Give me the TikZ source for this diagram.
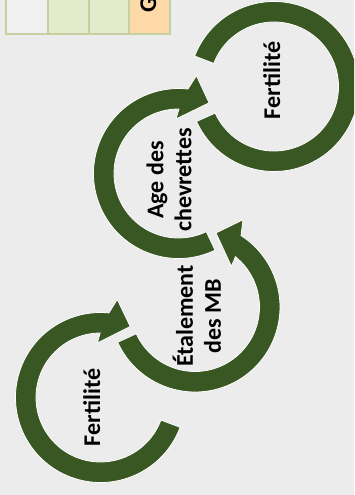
\documentclass[tikz,border=0pt]{standalone}
\usepackage{fontspec}
\setmainfont{Carlito}
\usetikzlibrary{calc}
\definecolor{bgc}{RGB}{236,236,236}
\definecolor{ringc}{RGB}{56,87,35}
\definecolor{tabline}{RGB}{196,208,160}
\definecolor{tabgreen}{RGB}{226,235,204}
\definecolor{taborange}{RGB}{252,217,166}
\definecolor{tabgray}{RGB}{240,240,240}
\begin{document}
\begin{tikzpicture}[x=1pt,y=-1pt,
  ring/.style={fill=ringc, draw=white, line width=0.8pt, line join=miter},
  lbl/.style={font=\fontsize{24}{28}\selectfont\bfseries, text=black, rotate=90, inner sep=0pt, align=center},
  tabrule/.style={draw=tabline, line width=2pt}]
\useasboundingbox (0,0) rectangle (354,495);
\fill[bgc] (0,0) rectangle (354,495);
\begin{scope}
\clip (0,0) rectangle (354,495);
% table fragment
\fill[tabgray] (6,-10) rectangle (48,34);
\fill[tabgreen] (48,-10) rectangle (129,34);
\fill[taborange] (129,-10) rectangle (170,34);
\draw[tabrule] (6,-10) -- (6,34) -- (170,34) -- (170,-10);
\draw[tabrule] (48,-10) -- (48,34) (89,-10) -- (89,34) (129,-10) -- (129,34);
\node[lbl, anchor=base] (g) at (156,5) {G};
% centres
\coordinate (C1) at (100.5,397.5);
\coordinate (C2) at (195,307);
\coordinate (C3) at (178.5,173.5);
\coordinate (C4) at (274,86.5);
% circle 1
\path[ring] ($(C1)+(20.5:85)$) arc[start angle=20.5, end angle=275.7, radius=85]
  -- ($(C1)+(279.7:99.5)$) -- ($(C1)+(292.7:77)$) -- ($(C1)+(266.7:54.6)$)
  -- ($(C1)+(269.7:64.5)$) arc[start angle=269.7, end angle=20.5, radius=64.5] -- cycle;
% circle 2
\path[ring] ($(C2)+(155.5:85)$) arc[start angle=155.5, end angle=-57.2, radius=85]
  -- ($(C2)+(-61.2:99.5)$) -- ($(C2)+(-74.2:77)$) -- ($(C2)+(-48.2:54.6)$)
  -- ($(C2)+(-51.2:64.5)$) arc[start angle=-51.2, end angle=155.5, radius=64.5] -- cycle;
% circle 3
\path[ring] ($(C3)+(64.5:85)$) arc[start angle=64.5, end angle=276.4, radius=85]
  -- ($(C3)+(280.4:99.5)$) -- ($(C3)+(293.4:77)$) -- ($(C3)+(267.4:54.6)$)
  -- ($(C3)+(270.4:64.5)$) arc[start angle=270.4, end angle=64.5, radius=64.5] -- cycle;
% circle 4
\path[ring] ($(C4)+(155.7:85)$) arc[start angle=155.7, end angle=-159, radius=85]
  -- ($(C4)+(-159:64.5)$) arc[start angle=-159, end angle=155.7, radius=64.5] -- cycle;
% labels
\node[lbl, anchor=base] (t1) at (100,407.5) {Fertilité};
\node[lbl] (t2) at (197,316) {Étalement\\des MB};
\node[lbl] (t3) at (169,180) {Age des\\chevrettes};
\node[lbl, anchor=base] (t4) at (280,80.5) {Fertilité};
\end{scope}
\end{tikzpicture}
\end{document}
